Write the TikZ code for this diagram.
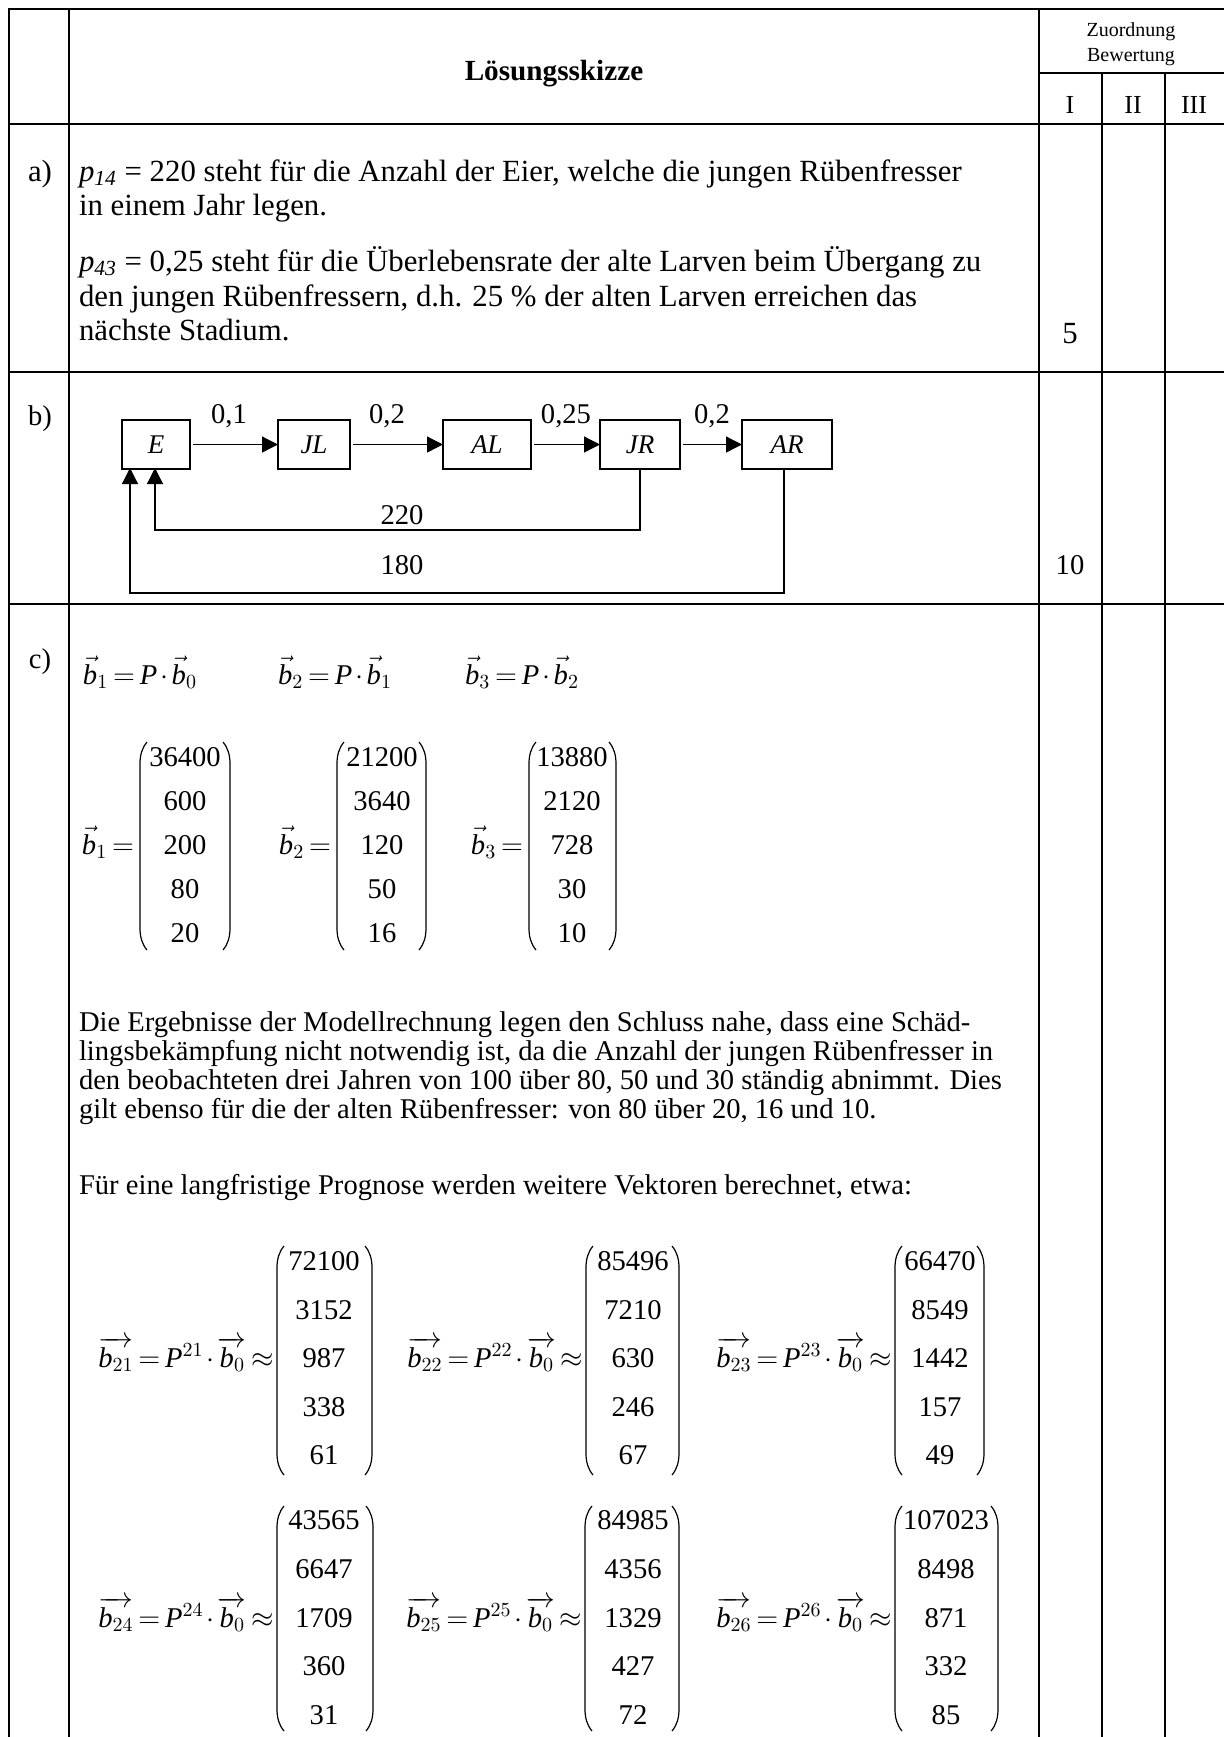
\documentclass[tikz,border=0pt]{standalone}
\usepackage{amsmath}
\usepackage{fontspec}
\setmainfont{Liberation Serif}
\usetikzlibrary{arrows.meta}
\newcommand\mainsz{\fontsize{14.3}{16}\selectfont}
\newcommand\bigsz{\fontsize{15.4}{17}\selectfont}
\newcommand\tightmath{\thickmuskip=3mu plus 1mu\medmuskip=2mu}
\newcommand\mkcol[5]{%
  \foreach \vv [count=\ii] in {#4} {\node[num] (#5\ii) at (#1,{#2+#3*(\ii-1)+9.5}) {\vv};}}
\newcommand\mkparens[4]{%
  \draw[par] ({#1+7},#3) .. controls ({#1+2},{#3+6}) and (#1,{#3+13}) .. (#1,{#3+22}) -- (#1,{#4-22}) .. controls (#1,{#4-13}) and ({#1+2},{#4-6}) .. ({#1+7},#4);
  \draw[par] ({#2-7},#3) .. controls ({#2-2},{#3+6}) and (#2,{#3+13}) .. (#2,{#3+22}) -- (#2,{#4-22}) .. controls (#2,{#4-13}) and ({#2-2},{#4-6}) .. ({#2-7},#4);}
\begin{document}
\begin{tikzpicture}[x=0.5pt,y=-0.5pt,
  every node/.style={inner sep=0pt, outer sep=0pt, font=\mainsz},
  txt/.style={anchor=base west},
  atxt/.style={anchor=base west, font=\bigsz},
  ctr/.style={anchor=base},
  num/.style={anchor=base},
  lbl/.style={anchor=base east},
  major/.style={line width=1.35pt, line cap=rect},
  vert/.style={line width=1.15pt},
  thin/.style={line width=1pt},
  par/.style={line width=0.6pt},
  blk/.style={draw, line width=0.85pt, minimum height=24.5pt, font=\fontsize{13.5}{15}\selectfont\itshape},
  conn/.style={line width=0.65pt, -{Triangle[length=8pt,width=8pt]}}]
\useasboundingbox (0,0) rectangle (1223,1737);
% table
\draw[major] (9,9) -- (1230,9);
\draw[major] (9,124) -- (1230,124);
\draw[major] (9,372) -- (1230,372);
\draw[major] (9,604) -- (1230,604);
\draw[vert] (9,9) -- (9,1745);
\draw[vert] (69,9) -- (69,1745);
\draw[vert] (1039,9) -- (1039,1745);
\draw[thin] (1039,73) -- (1230,73);
\draw[thin] (1102,73) -- (1102,1745);
\draw[thin] (1165,73) -- (1165,1745);
% header
\node[ctr, font=\fontsize{14.6}{16}\selectfont\bfseries] (head) at (554,80) {Lösungsskizze};
\node[ctr, font=\fontsize{10}{12}\selectfont] (zu) at (1131,36) {Zuordnung};
\node[ctr, font=\fontsize{10}{12}\selectfont] (bw) at (1131,61) {Bewertung};
\node[ctr, font=\fontsize{13}{14}\selectfont] (h1) at (1070,113) {I};
\node[ctr, font=\fontsize{13}{14}\selectfont] (h2) at (1133,113) {II};
\node[ctr, font=\fontsize{13}{14}\selectfont] (h3) at (1194,113) {III};
% row a
\node[ctr, font=\bigsz] (la) at (40,181) {a)};
\node[atxt] (a1) at (79,181) {$\mathit{p}_{\mathit{14}}$ = 220 steht für die Anzahl der Eier, welche die jungen Rübenfresser};
\node[atxt] (a2) at (79,215) {in einem Jahr legen.};
\node[atxt] (a3) at (79,271) {$\mathit{p}_{\mathit{43}}$ = 0,25 steht für die Überlebensrate der alte Larven beim Übergang zu};
\node[atxt] (a4) at (79,306) {den jungen Rübenfressern, d.h. 25 \% der alten Larven erreichen das};
\node[atxt] (a5) at (79,340) {nächste Stadium.};
\node[ctr, font=\bigsz] (pa) at (1070,343) {5};
% row b
\node[ctr] (lb) at (40,425) {b)};
\node[blk, minimum width=34pt] (E) at (156,444.5) {E\hspace{6pt}};
\node[blk, minimum width=36pt] (JL) at (314,444.5) {JL};
\node[blk, minimum width=44pt] (AL) at (487,444.5) {AL\hspace{10pt}};
\node[blk, minimum width=40pt] (JR) at (640,444.5) {JR\hspace{7pt}};
\node[blk, minimum width=45pt] (AR) at (787,444.5) {AR\hspace{10pt}};
\draw[conn] ([xshift=1.5pt]E.east) -- (JL.west);
\draw[conn] ([xshift=1.5pt]JL.east) -- (AL.west);
\draw[conn] ([xshift=1.5pt]AL.east) -- (JR.west);
\draw[conn] ([xshift=1.5pt]JR.east) -- (AR.west);
\node[ctr] (w1) at (229,423) {0,1};
\node[ctr] (w2) at (387,423) {0,2};
\node[ctr] (w3) at (566,423) {0,25};
\node[ctr] (w4) at (712,423) {0,2};
\coordinate (r220) at (0,530);
\coordinate (r180) at (0,593);
\coordinate (e2) at ([xshift=16.5pt]E.south west);
\coordinate (e1) at ([xshift=4pt]E.south west);
\coordinate (arb) at ([xshift=-1.5pt]AR.south);
\draw[conn, shorten >=-0.5pt] (JR.south) -- (JR.south |- r220) -| (e2);
\draw[conn, shorten >=-0.5pt] (arb) -- (arb |- r180) -| (e1);
\node[ctr] (l220) at (402,524) {220};
\node[ctr] (l180) at (402,574) {180};
\node[ctr] (pb) at (1070,574) {10};
% row c
\node[ctr] (lc) at (40,668) {c)};
\node[txt] (c1) at (83,684) {\tightmath$\vec{\mathit{b}}_1=\mathit{P}\cdot\vec{\mathit{b}}_0$};
\node[txt] (c2) at (278,684) {\tightmath$\vec{\mathit{b}}_2=\mathit{P}\cdot\vec{\mathit{b}}_1$};
\node[txt] (c3) at (465,684) {\tightmath$\vec{\mathit{b}}_3=\mathit{P}\cdot\vec{\mathit{b}}_2$};
% first vectors
\mkparens{140}{230}{742}{950}
\mkparens{337}{426}{742}{950}
\mkparens{529}{616}{742}{950}
\mkcol{185}{757}{44}{36400,600,200,80,20}{va}
\mkcol{382}{757}{44}{21200,3640,120,50,16}{vb}
\mkcol{572}{757}{44}{13880,2120,728,30,10}{vc}
\node[lbl] (la1) at (134,854) {\tightmath$\vec{\mathit{b}}_1=$};
\node[lbl] (la2) at (331,854) {\tightmath$\vec{\mathit{b}}_2=$};
\node[lbl] (la3) at (523,854) {\tightmath$\vec{\mathit{b}}_3=$};
% paragraph
\node[txt] (p1) at (79,1031) {Die Ergebnisse der Modellrechnung legen den Schluss nahe, dass eine Schäd-};
\node[txt] (p2) at (79,1060) {lingsbekämpfung nicht notwendig ist, da die Anzahl der jungen Rübenfresser in};
\node[txt] (p3) at (79,1089) {den beobachteten drei Jahren von 100 über 80, 50 und 30 ständig abnimmt. Dies};
\node[txt] (p4) at (79,1118) {gilt ebenso für die der alten Rübenfresser: von 80 über 20, 16 und 10.};
\node[txt] (p5) at (79,1194) {Für eine langfristige Prognose werden weitere Vektoren berechnet, etwa:};
% second row of vectors
\mkparens{277}{372}{1246}{1475}
\mkparens{586}{679}{1246}{1475}
\mkparens{895}{984}{1246}{1475}
\mkcol{324}{1261}{48.6}{72100,3152,987,338,61}{vd}
\mkcol{633}{1261}{48.6}{85496,7210,630,246,67}{ve}
\mkcol{940}{1261}{48.6}{66470,8549,1442,157,49}{vf}
\node[lbl] (ld) at (274,1367) {\tightmath$\overrightarrow{\mathit{b}_{21}}=\mathit{P}^{21}\cdot\overrightarrow{\mathit{b}_0}\approx$};
\node[lbl] (le) at (583,1367) {\tightmath$\overrightarrow{\mathit{b}_{22}}=\mathit{P}^{22}\cdot\overrightarrow{\mathit{b}_0}\approx$};
\node[lbl] (lf) at (892,1367) {\tightmath$\overrightarrow{\mathit{b}_{23}}=\mathit{P}^{23}\cdot\overrightarrow{\mathit{b}_0}\approx$};
% third row of vectors
\mkparens{277}{373}{1506}{1731}
\mkparens{585}{679}{1506}{1731}
\mkparens{895}{998}{1506}{1731}
\mkcol{324}{1520}{48.75}{43565,6647,1709,360,31}{vg}
\mkcol{633}{1520}{48.75}{84985,4356,1329,427,72}{vh}
\mkcol{946}{1520}{48.75}{107023,8498,871,332,85}{vi}
\node[lbl] (lg) at (274,1627) {\tightmath$\overrightarrow{\mathit{b}_{24}}=\mathit{P}^{24}\cdot\overrightarrow{\mathit{b}_0}\approx$};
\node[lbl] (lh) at (582,1627) {\tightmath$\overrightarrow{\mathit{b}_{25}}=\mathit{P}^{25}\cdot\overrightarrow{\mathit{b}_0}\approx$};
\node[lbl] (li) at (892,1627) {\tightmath$\overrightarrow{\mathit{b}_{26}}=\mathit{P}^{26}\cdot\overrightarrow{\mathit{b}_0}\approx$};
\end{tikzpicture}
\end{document}
